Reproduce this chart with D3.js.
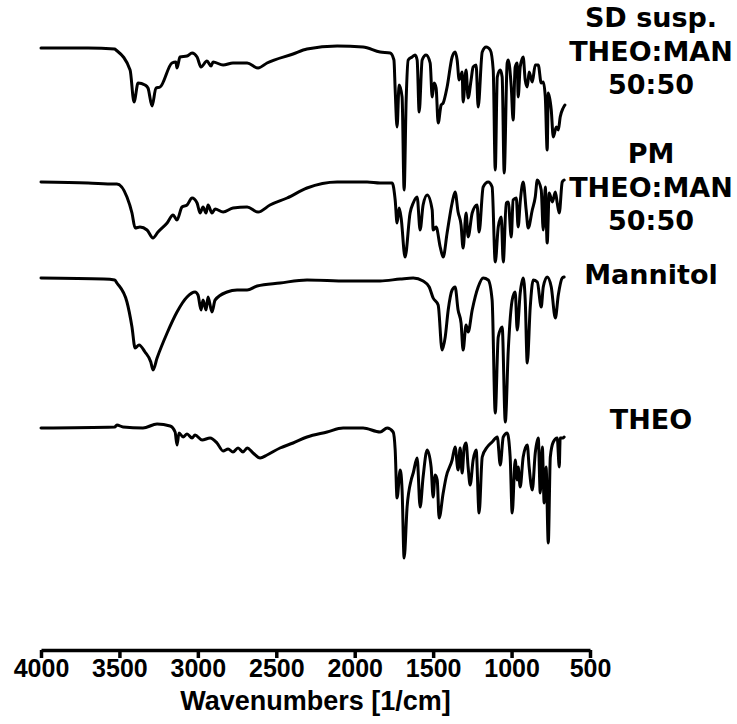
<!DOCTYPE html>
<html>
<head>
<meta charset="utf-8">
<script src="https://cdn.jsdelivr.net/npm/d3@7"></script>
<style>
  html, body { margin: 0; padding: 0; background: #fff; }
  svg { display: block; }
</style>
</head>
<body>
<div id="chart"></div>
<script>
// ---- Data (relative transmittance, baseline 0, absorptions negative) ----
const seriesNames = ["SD susp.\nTHEO:MAN\n50:50", "PM\nTHEO:MAN\n50:50", "Mannitol", "THEO"];
const seriesOffsets = [600, 465, 370, 221];

const sdSusp = [[4000,0],[3700,0],[3530,-1],[3522,-2],[3432,-22],[3407,-54],[3381,-35],[3337,-37],[3318,-40],[3292,-58],[3267,-40],[3241,-39],[3165,-15],[3140,-14],[3133,-20],[3114,-9],[3069,-8],[3037,-5],[3005,-9],[2980,-19],[2942,-13],[2916,-18],[2903,-14],[2839,-17],[2776,-15],[2686,-15],[2616,-20],[2559,-15],[2393,-6],[2304,-1],[2112,2],[1947,1],[1838,-4],[1774,-5],[1750,-12],[1742,-42],[1730,-79],[1717,-37],[1698,-49],[1685,-142],[1672,-52],[1659,-12],[1634,-9],[1615,-7],[1602,-12],[1589,-64],[1570,-12],[1545,-7],[1519,-15],[1506,-49],[1494,-35],[1481,-40],[1468,-75],[1449,-57],[1436,-55],[1411,-39],[1379,-9],[1360,-4],[1347,-12],[1334,-32],[1315,-24],[1309,-54],[1290,-22],[1277,-50],[1258,-32],[1245,-19],[1226,-17],[1213,-59],[1187,-4],[1162,1],[1136,-2],[1117,-22],[1104,-122],[1091,-29],[1072,-22],[1060,-29],[1047,-125],[1028,-15],[1021,-12],[1002,-39],[990,-72],[977,-19],[964,-15],[958,-49],[945,-19],[926,-9],[913,-32],[900,-39],[888,-24],[868,-34],[849,-17],[830,-17],[811,-35],[798,-34],[785,-49],[773,-102],[766,-45],[747,-62],[734,-89],[715,-79],[702,-82],[690,-69],[671,-60],[660,-57]];

const physMix = [[4000,1],[3700,0],[3530,-1],[3516,-1],[3452,-14],[3420,-30],[3400,-45],[3369,-44],[3324,-47],[3286,-55],[3254,-49],[3196,-40],[3158,-32],[3133,-37],[3101,-24],[3069,-22],[3037,-15],[3005,-20],[2986,-30],[2967,-24],[2948,-30],[2935,-22],[2910,-30],[2890,-26],[2839,-29],[2776,-25],[2686,-24],[2616,-29],[2540,-22],[2431,-15],[2304,-5],[2112,1],[1921,1],[1838,0],[1761,0],[1742,-17],[1730,-40],[1717,-25],[1704,-35],[1679,-74],[1647,-30],[1627,-20],[1602,-14],[1583,-47],[1564,-22],[1538,-12],[1506,-27],[1500,-47],[1481,-44],[1455,-64],[1436,-74],[1411,-50],[1379,-20],[1360,-9],[1341,-29],[1322,-42],[1309,-65],[1290,-30],[1277,-54],[1251,-30],[1220,-22],[1207,-49],[1181,-4],[1149,1],[1124,-4],[1104,-79],[1085,-44],[1066,-34],[1053,-79],[1034,-20],[1021,-19],[1002,-54],[990,-17],[970,-15],[958,-44],[945,-19],[926,1],[907,-27],[894,-45],[868,-27],[849,-14],[836,3],[811,-7],[798,-47],[785,-4],[773,-60],[760,-10],[740,-19],[721,-9],[709,-20],[696,-30],[677,1],[665,3]];

const mannitol = [[4000,0],[3600,-1],[3530,-2],[3516,-5],[3452,-24],[3420,-49],[3400,-70],[3375,-67],[3337,-74],[3300,-84],[3286,-92],[3260,-80],[3196,-55],[3133,-34],[3069,-19],[3018,-14],[2999,-17],[2980,-32],[2967,-22],[2948,-32],[2935,-19],[2910,-34],[2890,-22],[2814,-14],[2750,-12],[2686,-12],[2622,-8],[2476,-5],[2304,-2],[2049,-3],[1838,-3],[1710,-1],[1627,0],[1564,-3],[1525,-9],[1500,-20],[1468,-27],[1443,-72],[1423,-59],[1404,-32],[1379,-12],[1360,-9],[1341,-32],[1322,-45],[1309,-72],[1290,-47],[1277,-54],[1251,-32],[1213,-9],[1181,0],[1149,-2],[1124,-22],[1104,-135],[1085,-59],[1060,-49],[1040,-144],[1021,-72],[996,-22],[977,-14],[964,-52],[945,-15],[926,0],[913,-22],[900,-85],[881,-29],[862,-2],[836,-4],[811,-29],[798,-9],[773,1],[747,-9],[721,-40],[702,-17],[677,0],[665,1]];

const theo = [[4000,-1],[3530,0],[3516,2],[3477,0],[3350,-1],[3260,3],[3177,1],[3145,-5],[3133,-18],[3120,-6],[3094,-10],[3069,-7],[3037,-11],[3018,-8],[2973,-13],[2922,-11],[2878,-16],[2839,-24],[2807,-22],[2776,-25],[2744,-21],[2712,-25],[2686,-21],[2648,-26],[2603,-31],[2559,-28],[2476,-21],[2393,-16],[2304,-10],[2176,-5],[2074,-1],[1947,-1],[1838,-5],[1793,-1],[1755,-5],[1742,-23],[1730,-71],[1710,-43],[1698,-63],[1685,-131],[1666,-80],[1640,-53],[1627,-46],[1602,-31],[1583,-80],[1564,-50],[1538,-23],[1513,-40],[1500,-70],[1487,-48],[1474,-53],[1462,-91],[1436,-66],[1417,-50],[1379,-33],[1360,-20],[1341,-43],[1328,-21],[1315,-46],[1302,-20],[1290,-16],[1277,-40],[1264,-58],[1245,-33],[1226,-23],[1207,-86],[1187,-30],[1155,-20],[1124,-15],[1091,-10],[1072,-38],[1053,-10],[1028,-6],[1009,-30],[996,-86],[977,-33],[964,-53],[958,-40],[945,-60],[926,-30],[900,-18],[888,-40],[868,-63],[849,-26],[830,-11],[817,-66],[804,-20],[792,-76],[780,-40],[766,-116],[753,-30],[734,-15],[709,-11],[696,-40],[690,-11],[671,-11],[665,-10]];

const allSeries = [sdSusp, physMix, mannitol, theo];
const xTicks = [4000, 3500, 3000, 2500, 2000, 1500, 1000, 500];
const xTitle = "Wavenumbers [1/cm]";

// ---- Layout ----
const W = 737, H = 724;
const svg = d3.select("#chart").append("svg").attr("width", W).attr("height", H);

const x = d3.scaleLinear().domain([4000, 500]).range([41, 590]);
const y = d3.scaleLinear().domain([0, 600]).range([648, 48]);

const line = d3.line()
  .x(d => x(d[0]))
  .y(d => y(d[1]))
  .curve(d3.curveMonotoneX);

allSeries.forEach((s, i) => {
  svg.append("path")
    .datum(s.map(p => [p[0], p[1] + seriesOffsets[i]]))
    .attr("d", line)
    .attr("fill", "none")
    .attr("stroke", "#000")
    .attr("stroke-width", 3)
    .attr("stroke-linejoin", "round")
    .attr("stroke-linecap", "round");
});

// labels
const labelX = 651;
const labelTops = [27, 163, 284, 429];
seriesNames.forEach((name, i) => {
  const lines = name.split("\n");
  const t = svg.append("text")
    .attr("x", labelX)
    .attr("y", labelTops[i])
    .attr("text-anchor", "middle")
    .attr("font-family", "DejaVu Sans")
    .attr("font-weight", "bold")
    .attr("font-size", 27)
    .attr("fill", "#000");
  lines.forEach((l, j) => {
    t.append("tspan").attr("x", labelX).attr("dy", j === 0 ? 0 : 33.5).text(l);
  });
});

// axis
const axis = d3.axisBottom(x).tickValues(xTicks).tickSize(8).tickSizeOuter(0).tickPadding(1).tickFormat(d3.format("d"));
const gx = svg.append("g").attr("transform", "translate(0,650)").call(axis);
gx.select(".domain").attr("stroke", "#000").attr("stroke-width", 3.5);
gx.selectAll(".tick line").attr("stroke", "#000").attr("stroke-width", 3.5);
gx.selectAll(".tick text")
  .attr("font-family", "Liberation Sans, Arial, sans-serif")
  .attr("font-weight", "bold")
  .attr("font-size", 25)
  .attr("fill", "#000");

svg.append("text")
  .attr("x", x(2250))
  .attr("y", 710)
  .attr("text-anchor", "middle")
  .attr("font-family", "Liberation Sans, Arial, sans-serif")
  .attr("font-weight", "bold")
  .attr("font-size", 27)
  .text(xTitle);
</script>
</body>
</html>
